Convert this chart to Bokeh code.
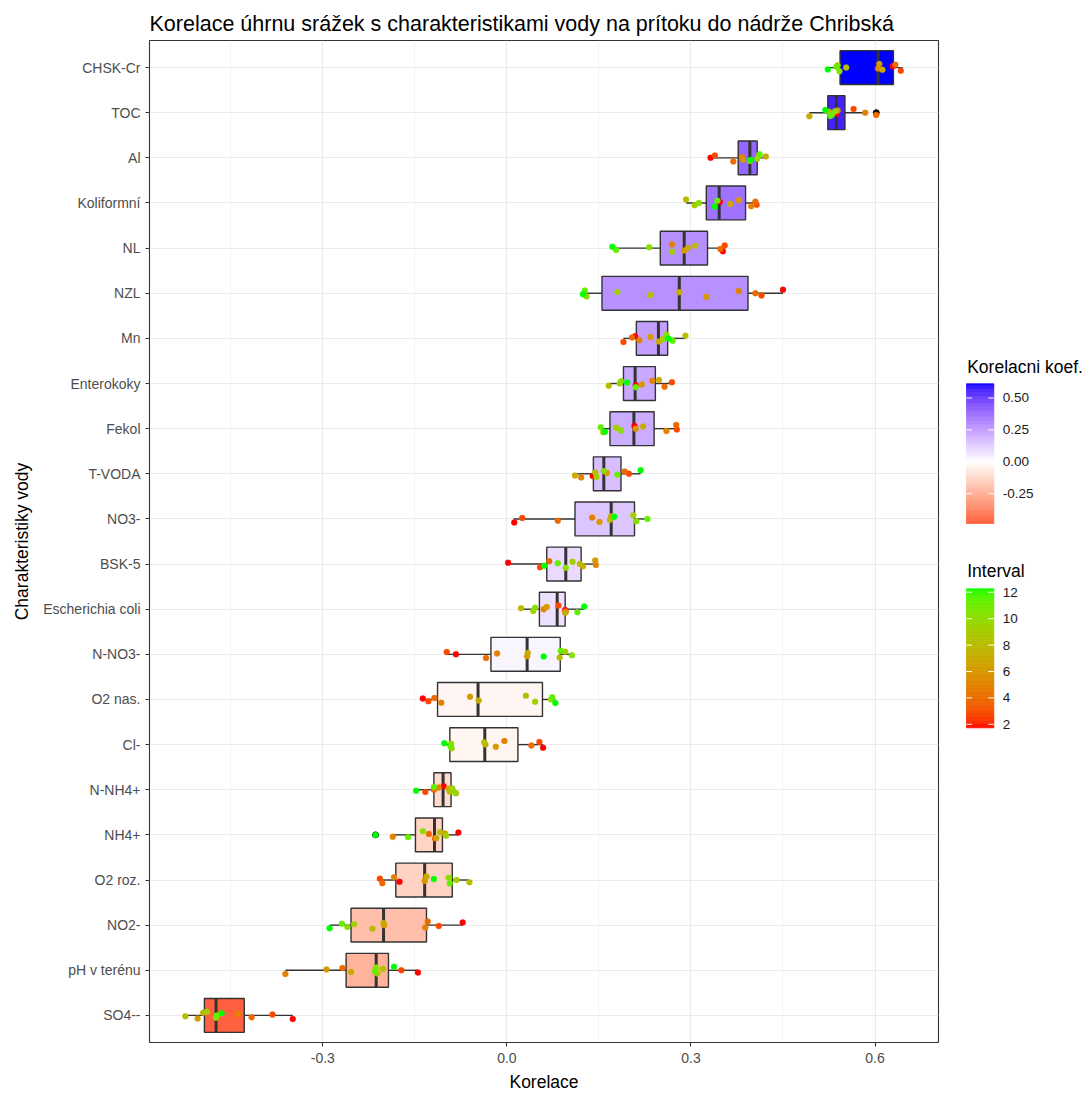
import numpy as np
from bokeh.plotting import figure
from bokeh.models import Range1d, FixedTicker, PrintfTickFormatter
from bokeh.layouts import row
from bokeh.core.properties import value
from bokeh.embed import file_html
from bokeh.resources import INLINE

# ---------------- data ----------------
TITLE = "Korelace úhrnu srážek s charakteristikami vody na prítoku do nádrže Chribská"
CATEGORIES = ["CHSK-Cr", "TOC", "Al", "Koliformní", "NL", "NZL", "Mn", "Enterokoky",
              "Fekol", "T-VODA", "NO3-", "BSK-5", "Escherichia coli", "N-NO3-",
              "O2 nas.", "Cl-", "N-NH4+", "NH4+", "O2 roz.", "NO2-", "pH v terénu", "SO4--"]

Q1 = [0.543, 0.523, 0.377, 0.325, 0.250, 0.155, 0.211, 0.190, 0.168, 0.141, 0.111,
      0.065, 0.053, -0.026, -0.113, -0.093, -0.119, -0.149, -0.181, -0.254, -0.262, -0.493]
MEDIAN = [0.605, 0.537, 0.396, 0.346, 0.289, 0.281, 0.247, 0.209, 0.207, 0.158, 0.170,
          0.096, 0.082, 0.033, -0.047, -0.036, -0.104, -0.118, -0.134, -0.201, -0.213, -0.474]
Q3 = [0.630, 0.551, 0.408, 0.389, 0.327, 0.393, 0.262, 0.242, 0.240, 0.186, 0.208,
      0.121, 0.095, 0.087, 0.058, 0.018, -0.091, -0.105, -0.089, -0.131, -0.193, -0.428]
WHISK_LO = [0.523, 0.493, 0.333, 0.292, 0.172, 0.124, 0.190, 0.166, 0.153, 0.111, 0.011,
            0.002, 0.023, -0.098, -0.137, -0.103, -0.148, -0.184, -0.209, -0.289, -0.361, -0.524]
WHISK_HI = [0.645, 0.584, 0.420, 0.407, 0.355, 0.450, 0.291, 0.270, 0.277, 0.218, 0.229,
            0.145, 0.126, 0.106, 0.079, 0.059, -0.084, -0.079, -0.062, -0.072, -0.146, -0.349]
OUTLIER_CAT = ["TOC", "NH4+"]
OUTLIER_VAL = [0.602, -0.214]

INTERVALS = [2, 3, 4, 5, 6, 7, 8, 9, 10, 11, 12]
PTS_CHSK_CR = [0.629, 0.642, 0.633, 0.605, 0.607, 0.612, 0.553, 0.539, 0.542, 0.537, 0.523]
PTS_TOC = [0.538, 0.565, 0.602, 0.584, 0.539, 0.493, 0.525, 0.530, 0.535, 0.527, 0.519]
PTS_AL = [0.332, 0.339, 0.369, 0.383, 0.385, 0.422, 0.396, 0.411, 0.408, 0.412, 0.397]
PTS_KOLIFORMNI = [0.347, 0.407, 0.405, 0.398, 0.378, 0.364, 0.292, 0.306, 0.313, 0.343, 0.339]
PTS_NL = [0.352, 0.355, 0.348, 0.269, 0.289, 0.295, 0.307, 0.269, 0.232, 0.178, 0.172]
PTS_NZL = [0.450, 0.415, 0.405, 0.378, 0.325, 0.281, 0.234, 0.180, 0.130, 0.127, 0.124]
PTS_MN = [0.209, 0.190, 0.204, 0.216, 0.234, 0.248, 0.291, 0.254, 0.260, 0.270, 0.263]
PTS_ENTEROKOKY = [0.210, 0.269, 0.257, 0.237, 0.220, 0.248, 0.166, 0.184, 0.186, 0.210, 0.196]
PTS_FEKOL = [0.208, 0.277, 0.276, 0.260, 0.210, 0.222, 0.157, 0.178, 0.186, 0.153, 0.160]
PTS_T_VODA = [0.140, 0.199, 0.192, 0.121, 0.163, 0.111, 0.144, 0.146, 0.158, 0.180, 0.218]
PTS_NO3 = [0.012, 0.025, 0.083, 0.139, 0.151, 0.170, 0.168, 0.206, 0.211, 0.229, 0.175]
PTS_BSK5 = [0.002, 0.054, 0.069, 0.145, 0.144, 0.124, 0.119, 0.107, 0.096, 0.083, 0.061]
PTS_ECOLI = [0.095, 0.084, 0.096, 0.060, 0.065, 0.095, 0.023, 0.043, 0.046, 0.115, 0.126]
PTS_N_NO3 = [-0.083, -0.098, -0.034, -0.016, 0.033, 0.034, 0.086, 0.095, 0.106, 0.088, 0.060]
PTS_O2_NAS = [-0.137, -0.128, -0.118, -0.107, -0.060, -0.046, 0.031, 0.046, 0.072, 0.074, 0.079]
PTS_CL = [0.059, 0.053, 0.040, -0.004, -0.018, -0.035, -0.037, -0.090, -0.091, -0.092, -0.102]
PTS_N_NH4 = [-0.103, -0.133, -0.119, -0.111, -0.083, -0.095, -0.093, -0.089, -0.084, -0.119, -0.148]
PTS_NH4 = [-0.079, -0.117, -0.127, -0.186, -0.101, -0.115, -0.109, -0.099, -0.137, -0.161, -0.214]
PTS_O2_ROZ = [-0.175, -0.207, -0.203, -0.184, -0.134, -0.131, -0.061, -0.082, -0.095, -0.093, -0.119]
PTS_NO2 = [-0.072, -0.111, -0.129, -0.133, -0.200, -0.201, -0.219, -0.249, -0.260, -0.269, -0.289]
PTS_PH = [-0.145, -0.172, -0.268, -0.361, -0.294, -0.254, -0.202, -0.211, -0.213, -0.215, -0.184]
PTS_SO4 = [-0.349, -0.382, -0.416, -0.438, -0.504, -0.495, -0.524, -0.489, -0.474, -0.473, -0.465]

POINTS = [PTS_CHSK_CR, PTS_TOC, PTS_AL, PTS_KOLIFORMNI, PTS_NL, PTS_NZL, PTS_MN,
          PTS_ENTEROKOKY, PTS_FEKOL, PTS_T_VODA, PTS_NO3, PTS_BSK5, PTS_ECOLI, PTS_N_NO3,
          PTS_O2_NAS, PTS_CL, PTS_N_NH4, PTS_NH4, PTS_O2_ROZ, PTS_NO2, PTS_PH, PTS_SO4]

X_TICKS = [-0.3, 0.0, 0.3, 0.6]
X_MINOR = [-0.45, -0.15, 0.15, 0.45]
FILL_TICKS = [-0.25, 0.0, 0.25, 0.5]
INTERVAL_TICKS = [2, 4, 6, 8, 10, 12]

# ---------------- colour helpers (Lab interpolation like scales/farver) ----------------
_M = np.array([[0.4124564, 0.3575761, 0.1804375],
               [0.2126729, 0.7151522, 0.0721750],
               [0.0193339, 0.1191920, 0.9503041]])
_MI = np.linalg.inv(_M)
_WHITE = np.array([0.95047, 1.0, 1.08883])


def hex_to_lab(h):
    h = h.lstrip("#")
    c = np.array([int(h[i:i + 2], 16) / 255.0 for i in (0, 2, 4)])
    lin = np.where(c <= 0.04045, c / 12.92, ((c + 0.055) / 1.055) ** 2.4)
    xyz = _M @ lin / _WHITE
    d = 6 / 29
    f = np.where(xyz > d ** 3, np.cbrt(xyz), xyz / (3 * d * d) + 4 / 29)
    return np.array([116 * f[1] - 16, 500 * (f[0] - f[1]), 200 * (f[1] - f[2])])


def lab_to_hex(lab):
    L, a, b = lab
    fy = (L + 16) / 116
    fx = fy + a / 500
    fz = fy - b / 200
    d = 6 / 29
    f = np.array([fx, fy, fz])
    xyz = np.where(f > d, f ** 3, 3 * d * d * (f - 4 / 29)) * _WHITE
    lin = np.clip(_MI @ xyz, 0, 1)
    c = np.where(lin <= 0.0031308, 12.92 * lin, 1.055 * lin ** (1 / 2.4) - 0.055)
    c = np.clip(np.round(c * 255), 0, 255).astype(int)
    return "#%02x%02x%02x" % tuple(c)


LAB_RED, LAB_WHITE, LAB_BLUE, LAB_GREEN = (hex_to_lab(c) for c in ("#FF0000", "#FFFFFF", "#0000FF", "#00FF00"))


def interval_color(v, lo, hi):
    t = (v - lo) / (hi - lo)
    return lab_to_hex(LAB_RED + (LAB_GREEN - LAB_RED) * t)


def fill_color(v, extent):
    t = v / (2 * extent) + 0.5
    if t < 0.5:
        s = t / 0.5
        return lab_to_hex(LAB_RED + (LAB_WHITE - LAB_RED) * s)
    s = (t - 0.5) / 0.5
    return lab_to_hex(LAB_WHITE + (LAB_BLUE - LAB_WHITE) * s)


# ---------------- derived values ----------------
n = len(CATEGORIES)
ypos = [n - 1 - i for i in range(n)]
means = [float(np.mean(p)) for p in POINTS]
fmin, fmax = min(means), max(means)
extent = max(abs(fmin), abs(fmax))
box_colors = [fill_color(m, extent) for m in means]
imin, imax = min(INTERVALS), max(INTERVALS)

all_x = [v for p in POINTS for v in p] + WHISK_LO + WHISK_HI
xmin, xmax = min(all_x), max(all_x)
span = xmax - xmin

JITTER = [0.03, -0.07, 0.06, -0.02, 0.08, -0.05, 0.0, 0.05, -0.08, 0.02, -0.04]

FONT = "Liberation Sans"
DARK = "#333333"
BORDER_TOP, BORDER_BOTTOM = 40, 43
FRAME_H = 1002

# ---------------- main panel ----------------
p = figure(frame_width=789, frame_height=FRAME_H,
           min_border_left=149, min_border_right=3,
           min_border_top=BORDER_TOP, min_border_bottom=BORDER_BOTTOM,
           x_range=Range1d(xmin - 0.05 * span, xmax + 0.05 * span),
           y_range=Range1d(-0.6, n - 1 + 0.6),
           output_backend="svg", toolbar_location=None)

p.title.text = TITLE
p.title.text_font = FONT
p.title.text_font_size = "21.5px"
p.title.text_font_style = "normal"
p.title.text_color = "black"
p.title.align = "left"
p.title.standoff = 9

p.outline_line_color = DARK
p.outline_line_width = 1.1
p.background_fill_color = "white"

p.xaxis.ticker = FixedTicker(ticks=X_TICKS, minor_ticks=X_MINOR)
p.xaxis.formatter = PrintfTickFormatter(format="%.1f")
p.yaxis.ticker = FixedTicker(ticks=ypos)
p.yaxis.major_label_overrides = {y: c for y, c in zip(ypos, CATEGORIES)}
for ax in (p.xaxis, p.yaxis):
    ax.axis_line_color = None
    ax.minor_tick_line_color = None
    ax.major_tick_in = 0
    ax.major_tick_out = 4
    ax.major_tick_line_color = DARK
    ax.major_tick_line_width = 1.1
    ax.major_label_text_font = FONT
    ax.major_label_text_font_size = "14px"
    ax.major_label_text_color = "#4D4D4D"
    ax.axis_label_text_font = FONT
    ax.axis_label_text_font_size = "17.5px"
    ax.axis_label_text_font_style = "normal"
    ax.axis_label_text_color = "black"
p.xaxis.major_label_standoff = 6
p.xaxis.axis_label_standoff = 6
p.yaxis.major_label_standoff = 5
p.yaxis.axis_label_standoff = 8
p.xaxis.axis_label = "Korelace"
p.yaxis.axis_label = "Charakteristiky vody"

p.xgrid.grid_line_color = "#EBEBEB"
p.xgrid.grid_line_width = 1.1
p.xgrid.minor_grid_line_color = "#EBEBEB"
p.xgrid.minor_grid_line_width = 0.6
p.ygrid.grid_line_color = "#EBEBEB"
p.ygrid.grid_line_width = 1.1

# whiskers
p.segment(x0=WHISK_LO, x1=Q1, y0=ypos, y1=ypos, line_color=DARK, line_width=1.4)
p.segment(x0=Q3, x1=WHISK_HI, y0=ypos, y1=ypos, line_color=DARK, line_width=1.4)
# boxes
p.hbar(y=ypos, left=Q1, right=Q3, height=0.75, fill_color=box_colors,
       line_color=DARK, line_width=1.4)
# medians
p.segment(x0=MEDIAN, x1=MEDIAN, y0=[y - 0.375 for y in ypos], y1=[y + 0.375 for y in ypos],
          line_color=DARK, line_width=3)
# outliers
out_y = [ypos[CATEGORIES.index(c)] for c in OUTLIER_CAT]
p.scatter(x=OUTLIER_VAL, y=out_y, size=6, fill_color="black", line_color="black")

# jittered points
px, py, pc = [], [], []
for i, pts in enumerate(POINTS):
    for k, (v, it) in enumerate(zip(pts, INTERVALS)):
        px.append(v)
        py.append(ypos[i] + JITTER[(k + 3 * i) % len(JITTER)])
        pc.append(interval_color(it, imin, imax))
p.scatter(x=px, y=py, size=6, fill_color=pc, line_color=pc, line_width=0.3)

# ---------------- legend panel (its frame is aligned with the main frame; page pixel coords) ----------------
LX0 = 941
LW = 141
leg = figure(width=LW, frame_width=LW, frame_height=FRAME_H,
             min_border_left=0, min_border_right=0,
             min_border_top=BORDER_TOP, min_border_bottom=BORDER_BOTTOM,
             x_range=Range1d(LX0, LX0 + LW),
             y_range=Range1d(BORDER_TOP + FRAME_H, BORDER_TOP),
             x_axis_type=None, y_axis_type=None,
             output_backend="svg", toolbar_location=None)
leg.outline_line_color = None
leg.grid.visible = False


def draw_bar(y_top, y_bot, vlo, vhi, color_fn, ticks, labels, title, title_y):
    x0, x1 = 966.0, 993.3
    H = y_bot - y_top
    nb = 100
    edges = np.linspace(y_top, y_bot, nb + 1)
    vals = [vhi - (j + 0.5) / nb * (vhi - vlo) for j in range(nb)]
    cols = [color_fn(v) for v in vals]
    leg.quad(left=x0, right=x1, top=edges[:-1], bottom=edges[1:],
             fill_color=cols, line_color=cols, line_width=0.8)
    inset = H / 40
    ty = [y_top + inset + (vhi - t) / (vhi - vlo) * (H - 2 * inset) for t in ticks]
    tl = (x1 - x0) / 5
    leg.segment(x0=[x0] * len(ty), x1=[x0 + tl] * len(ty), y0=ty, y1=ty, line_color="white", line_width=1)
    leg.segment(x0=[x1 - tl] * len(ty), x1=[x1] * len(ty), y0=ty, y1=ty, line_color="white", line_width=1)
    leg.text(x=[x1 + 9] * len(ty), y=ty, text=labels, text_font=value(FONT), text_font_size="13.5px",
             text_color="#1A1A1A", text_baseline="middle", text_align="left")
    leg.text(x=[x0 + 0.7], y=[title_y], text=[title], text_font=value(FONT), text_font_size="17.5px",
             text_color="black", text_baseline="middle", text_align="left")


draw_bar(383.3, 523.0, fmin, fmax, lambda v: fill_color(v, extent),
         FILL_TICKS, ["%.2f" % t for t in FILL_TICKS], "Korelacni koef.", 366.7)
draw_bar(588.3, 727.3, imin, imax, lambda v: interval_color(v, imin, imax),
         INTERVAL_TICKS, [str(t) for t in INTERVAL_TICKS], "Interval", 570.0)

layout = row(p, leg)
open("out.html", "w").write(file_html(layout, INLINE))
